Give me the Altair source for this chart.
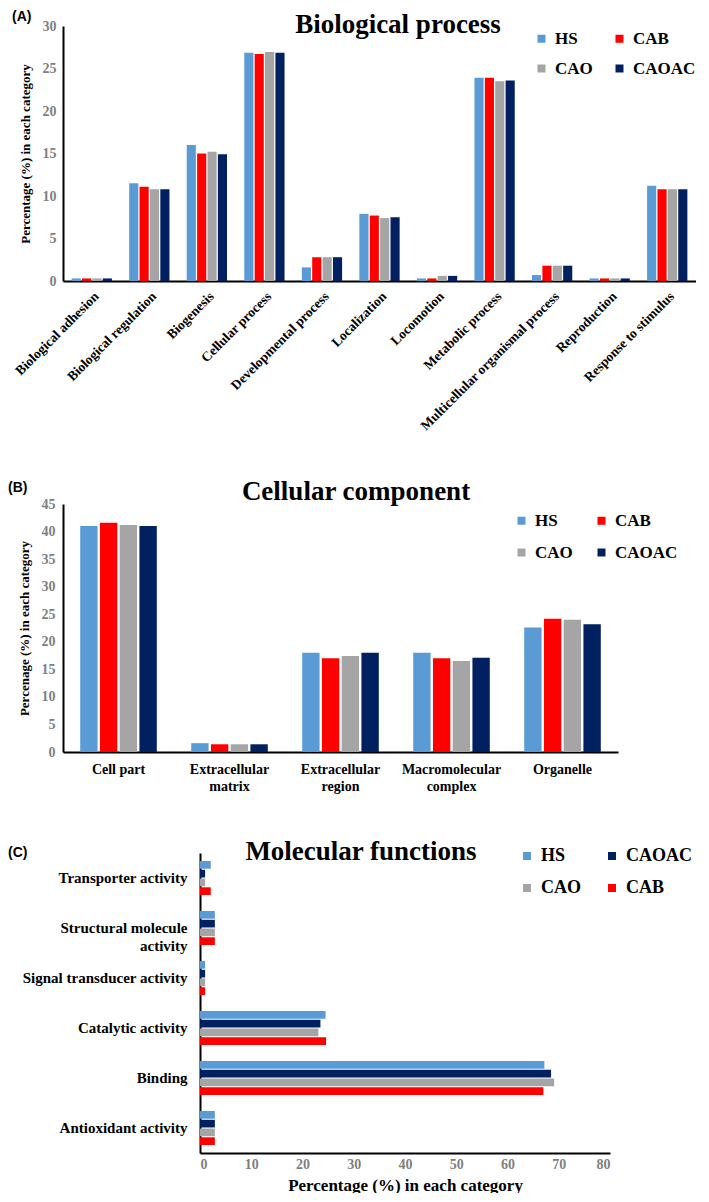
import altair as alt
import pandas as pd

SERIF = "Liberation Serif"
SANS = "Liberation Sans"
TICK_GRAY = "#7f7f7f"

# ---------------- data ----------------
groups_ab = ["HS", "CAB", "CAO", "CAOAC"]
groups_c = ["HS", "CAOAC", "CAO", "CAB"]
group_colors = {"HS": "#5B9BD5", "CAB": "#FF0000", "CAO": "#A5A5A5", "CAOAC": "#002060"}

bp_categories = ["Biological adhesion", "Biological regulation", "Biogenesis", "Cellular process",
                 "Developmental process", "Localization", "Locomotion", "Metabolic process",
                 "Multicellular organismal process", "Reproduction", "Response to stimulus"]
bp_HS = [0.3, 11.5, 16.0, 26.85, 1.6, 7.9, 0.3, 23.9, 0.7, 0.3, 11.2]
bp_CAB = [0.3, 11.1, 15.0, 26.7, 2.8, 7.7, 0.3, 23.9, 1.8, 0.3, 10.8]
bp_CAO = [0.3, 10.8, 15.2, 26.95, 2.8, 7.4, 0.6, 23.5, 1.8, 0.3, 10.8]
bp_CAOAC = [0.3, 10.8, 14.9, 26.85, 2.8, 7.5, 0.6, 23.6, 1.8, 0.3, 10.8]
bp_ticks = [0, 5, 10, 15, 20, 25, 30]

cc_categories = ["Cell part", "Extracellular matrix", "Extracellular region",
                 "Macromolecular complex", "Organelle"]
cc_HS = [41.0, 1.6, 18.0, 18.0, 22.6]
cc_CAB = [41.6, 1.4, 17.0, 17.0, 24.2]
cc_CAO = [41.2, 1.4, 17.4, 16.5, 24.0]
cc_CAOAC = [41.0, 1.4, 18.0, 17.1, 23.2]
cc_ticks = [0, 5, 10, 15, 20, 25, 30, 35, 40, 45]

mf_categories = ["Transporter activity", "Structural molecule activity", "Signal transducer activity",
                 "Catalytic activity", "Binding", "Antioxidant activity"]
mf_HS = [2.1, 2.9, 1.0, 24.5, 67.2, 2.9]
mf_CAOAC = [1.0, 2.9, 1.0, 23.5, 68.5, 2.9]
mf_CAO = [1.0, 2.9, 1.0, 23.1, 69.1, 2.9]
mf_CAB = [2.1, 2.9, 1.0, 24.6, 67.0, 2.9]
mf_ticks = [0, 10, 20, 30, 40, 50, 60, 70, 80]


def long_df(categories, series):
    rows = []
    for g, vals in series.items():
        for c, v in zip(categories, vals):
            rows.append({"category": c, "group": g, "value": v})
    return pd.DataFrame(rows)


dfA = long_df(bp_categories, {"HS": bp_HS, "CAB": bp_CAB, "CAO": bp_CAO, "CAOAC": bp_CAOAC})
dfB = long_df(cc_categories, {"HS": cc_HS, "CAB": cc_CAB, "CAO": cc_CAO, "CAOAC": cc_CAOAC})
dfC = long_df(mf_categories, {"HS": mf_HS, "CAOAC": mf_CAOAC, "CAO": mf_CAO, "CAB": mf_CAB})


def text_layer(text, x, y, font=SERIF, size=27, align="left", baseline="alphabetic", opacity=1.0):
    return alt.Chart(pd.DataFrame({"t": [text]})).mark_text(
        font=font, fontSize=size, fontWeight="bold", align=align, baseline=baseline,
        color="black", opacity=opacity
    ).encode(x=alt.value(x), y=alt.value(y), text="t:N")


def legend(groups, x, y, col_pad, row_pad, size):
    return alt.Legend(
        title=None, orient="none", legendX=x, legendY=y, columns=2, direction="horizontal",
        symbolType="square", symbolSize=64, symbolStrokeWidth=0, labelFont=SERIF,
        labelFontSize=size, labelFontWeight="bold", labelColor="black", labelOffset=5,
        columnPadding=col_pad, rowPadding=row_pad, padding=0, values=groups,
    )


def color_enc(groups, leg):
    return alt.Color("group:N", scale=alt.Scale(domain=groups, range=[group_colors[g] for g in groups]),
                     legend=leg)


axis_common = dict(domainColor="black", domainWidth=2, ticks=False, grid=False)

# ---------------- panel A ----------------
A_W, A_H = 633, 255
barsA = alt.Chart(dfA).mark_bar().encode(
    x=alt.X("category:N", sort=bp_categories,
            scale=alt.Scale(paddingInner=0.30, paddingOuter=0.15),
            axis=alt.Axis(title=None, labelAngle=-45, labelFont=SERIF, labelFontWeight="bold",
                          labelFontSize=13.5, labelColor="black", labelPadding=8, labelLimit=400,
                          **axis_common)),
    xOffset=alt.XOffset("group:N", sort=groups_ab, scale=alt.Scale(paddingInner=0.12)),
    y=alt.Y("value:Q", scale=alt.Scale(domain=[0, 30], nice=False),
            axis=alt.Axis(values=bp_ticks, title="Percentage (%) in each category",
                          titleFont=SERIF, titleFontSize=13, titleFontWeight="bold", titleColor="black",
                          titlePadding=10, labelFont=SERIF, labelFontSize=14, labelFontWeight="bold",
                          labelColor=TICK_GRAY, labelPadding=7, **axis_common)),
    color=color_enc(groups_ab, legend(groups_ab, 470, 4, 18, 12, 17)),
)
panelA = alt.layer(
    barsA,
    text_layer(".", 0, 4, size=27, opacity=0),
    text_layer("Biological process", 335, 7, size=27, align="center"),
    text_layer("(A)", -51, -5, font=SANS, size=14),
).properties(width=A_W, height=A_H)

# ---------------- panel B ----------------
B_W, B_H = 555, 248
barsB = alt.Chart(dfB).mark_bar().encode(
    x=alt.X("category:N", sort=cc_categories,
            scale=alt.Scale(paddingInner=0.31, paddingOuter=0.155),
            axis=alt.Axis(title=None, labelAngle=0, labelFont=SERIF, labelFontWeight="bold",
                          labelFontSize=14, labelColor="black", labelPadding=10, labelLineHeight=17,
                          labelExpr="datum.label == 'Cell part' ? datum.label : split(datum.label, ' ')",
                          **axis_common)),
    xOffset=alt.XOffset("group:N", sort=groups_ab, scale=alt.Scale(paddingInner=0.12)),
    y=alt.Y("value:Q", scale=alt.Scale(domain=[0, 45], nice=False),
            axis=alt.Axis(values=cc_ticks, title="Percenage (%) in each category",
                          titleFont=SERIF, titleFontSize=13, titleFontWeight="bold", titleColor="black",
                          titlePadding=10, labelFont=SERIF, labelFontSize=14, labelFontWeight="bold",
                          labelColor=TICK_GRAY, labelPadding=8, **axis_common)),
    color=color_enc(groups_ab, legend(groups_ab, 450, 8, 20, 14, 17)),
)
panelB = alt.layer(
    barsB,
    text_layer("Cellular component", 293, -4, size=27, align="center"),
    text_layer("(B)", -55, -12, font=SANS, size=14),
).properties(width=B_W, height=B_H)

# ---------------- panel C ----------------
# The plot origin is shared by all panels; panel C's value axis starts further right.
C_SHIFT, C_LEN, C_H = 137, 410, 300
activity_pad = "activity" + "\u00a0" * 10
barsC = alt.Chart(dfC).mark_bar().encode(
    y=alt.Y("category:N", sort=mf_categories,
            scale=alt.Scale(paddingInner=0.32, paddingOuter=0.16),
            axis=alt.Axis(title=None, labelFont=SERIF, labelFontWeight="bold", labelFontSize=15,
                          labelColor="black", labelPadding=13, labelLimit=400, labelLineHeight=18,
                          offset=-C_SHIFT,
                          labelExpr="datum.label == 'Structural molecule activity' ? ['Structural molecule', '"
                                    + activity_pad + "'] : datum.label",
                          **axis_common)),
    yOffset=alt.YOffset("group:N", sort=groups_c, scale=alt.Scale(paddingInner=0.12)),
    x=alt.X("value:Q", scale=alt.Scale(domain=[0, 80], nice=False, range=[C_SHIFT, C_SHIFT + C_LEN]),
            axis=alt.Axis(values=mf_ticks, title="Percentage (%) in each category",
                          titleFont=SERIF, titleFontSize=17, titleFontWeight="bold", titleColor="black",
                          titlePadding=6, labelFont=SERIF, labelFontSize=14, labelFontWeight="bold",
                          labelColor=TICK_GRAY, labelPadding=4, **axis_common)),
    color=color_enc(groups_c, legend(groups_c, 318 + C_SHIFT, -6, 22, 14, 18)),
)
panelC = alt.layer(
    barsC,
    text_layer("Molecular functions", 161 + C_SHIFT, 7, size=27, align="center"),
    text_layer("(C)", -55, 4, font=SANS, size=14),
).properties(width=C_SHIFT + C_LEN, height=C_H)

chart = alt.vconcat(panelA, panelB, panelC, spacing=45).resolve_scale(
    x="independent", y="independent", color="independent",
    xOffset="independent", yOffset="independent",
).resolve_legend(color="independent").properties(
    padding={"left": 0, "top": 0, "right": 0, "bottom": 0}
).configure_view(stroke=None)

chart.save("out.html", embed_options={"renderer": "svg", "actions": False})
